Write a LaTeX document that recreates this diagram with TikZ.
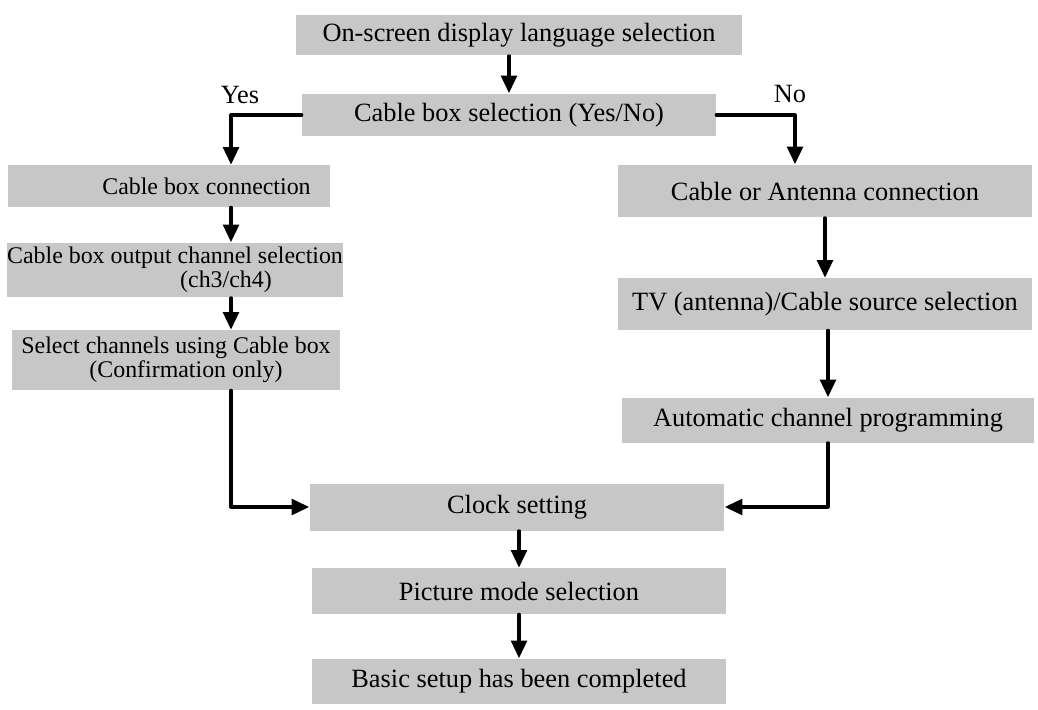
\documentclass[tikz,border=0pt]{standalone}
\usepackage{fontspec}
\setmainfont{Liberation Serif}
\usepackage{xcolor}
\usetikzlibrary{arrows.meta,calc,positioning}
\definecolor{boxgray}{gray}{0.78}
\tikzset{
  stepbox/.style={rectangle, fill=boxgray, inner sep=0pt, align=center, font=\fontsize{15}{14}\selectfont},
  leftbox/.style={stepbox, font=\fontsize{13.6}{13.8}\selectfont},
  lbl/.style={font=\fontsize{15}{18}\selectfont},
  flow/.style={line width=1.8pt, -{Triangle[length=10pt,width=9pt]}},
  every picture/.style={line cap=round, line join=round}
}

\begin{document}
\begin{tikzpicture}[x=0.02cm, y=-0.02cm]
  \useasboundingbox (0,0) rectangle (1038,710);

  \node[stepbox, minimum width=8.92cm, minimum height=0.82cm] (lang) at (519,35) {On-screen display language selection};
  \node[stepbox, minimum width=8.28cm, minimum height=0.86cm] (cbsel) at (509,115) {Cable box selection (Yes/No)};

  \node[leftbox, minimum width=6.44cm, minimum height=0.84cm] (cbconn) at (169,186) {\hspace*{1.5cm}Cable box connection};
  \node[leftbox, minimum width=6.72cm, minimum height=1.1cm] (cbout) at (175,270) {Cable box output channel selection\\\hspace*{2.04cm}(ch3/ch4)};
  \node[leftbox, minimum width=6.56cm, minimum height=1.2cm] (selch) at (176,360) {Select channels using Cable box\\\hspace*{0.4cm}(Confirmation only)};

  \node[stepbox, minimum width=8.28cm, minimum height=1.06cm] (antconn) at (825,191) {Cable or Antenna connection};
  \node[stepbox, minimum width=8.3cm, minimum height=1.04cm] (tvsrc) at (825,304) {TV (antenna)/Cable source selection};
  \node[stepbox, minimum width=8.24cm, minimum height=0.9cm] (autoch) at (828,420) {Automatic channel programming};

  \node[stepbox, minimum width=8.3cm, minimum height=0.94cm] (clock) at (517,507) {Clock setting};
  \node[stepbox, minimum width=8.3cm, minimum height=0.92cm] (picmode) at (519,591) {Picture mode selection};
  \node[stepbox, minimum width=8.3cm, minimum height=0.9cm] (done) at (519,681) {Basic setup has been completed};

  \node[lbl] (yes) at (240,95) {Yes};
  \node[lbl] (no) at (790,94) {No};

  \coordinate (yesx) at (231,0);
  \coordinate (nox) at (795,0);

  \draw[flow] (lang.south -| cbsel.north) -- (cbsel.north);
  \draw[flow] (cbsel.west) -| (yesx |- cbconn.north);
  \draw[flow] (yesx |- cbconn.south) -- (yesx |- cbout.north);
  \draw[flow] (yesx |- cbout.south) -- (yesx |- selch.north);
  \draw[flow] (yesx |- selch.south) |- (clock.west);
  \draw[flow] (cbsel.east) -| (nox |- antconn.north);
  \draw[flow] (antconn.south -| tvsrc.north) -- (tvsrc.north);
  \draw[flow] (tvsrc.south -| autoch.north) -- (autoch.north);
  \draw[flow] (autoch.south) |- (clock.east);
  \draw[flow] (clock.south -| picmode.north) -- (picmode.north);
  \draw[flow] (picmode.south) -- (done.north);
\end{tikzpicture}
\end{document}
